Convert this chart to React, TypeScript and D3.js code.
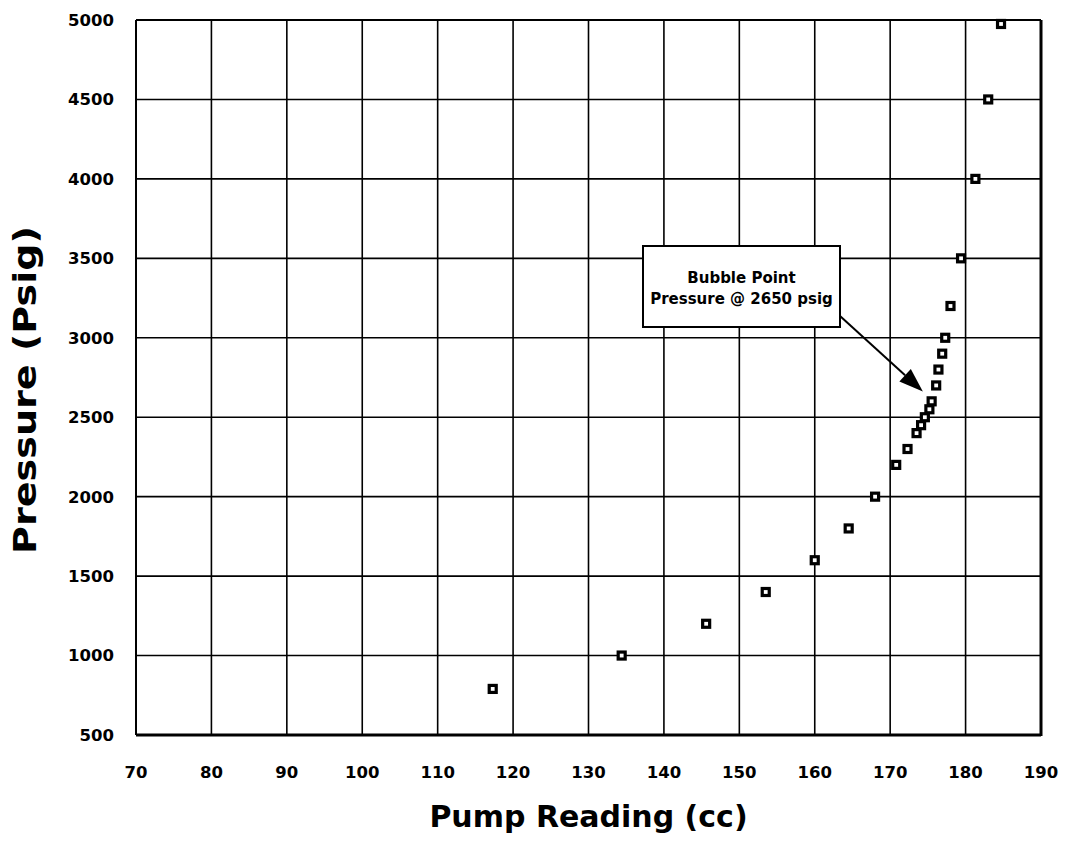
import React from "react";
import * as d3 from "d3";

const pumpReading = [117.3, 134.4, 145.6, 153.5, 160.0, 164.5, 168.0, 170.8, 172.3, 173.5, 174.1, 174.6, 175.2, 175.5, 176.1, 176.4, 176.9, 177.3, 178.0, 179.4, 181.3, 183.0, 184.7];
const pressure = [790, 1000, 1200, 1400, 1600, 1800, 2000, 2200, 2300, 2400, 2450, 2500, 2550, 2600, 2700, 2800, 2900, 3000, 3200, 3500, 4000, 4500, 4975];
const xTicks = [70, 80, 90, 100, 110, 120, 130, 140, 150, 160, 170, 180, 190];
const yTicks = [500, 1000, 1500, 2000, 2500, 3000, 3500, 4000, 4500, 5000];
const annotationLines = ["Bubble Point", "Pressure @ 2650 psig"];
const annotationTarget = { x: 174.4, p: 2650 };

const W = 1068;
const H = 844;
const left = 136, right = 1041, top = 20, bottom = 735;
const FONT = "'DejaVu Sans', Arial, sans-serif";

export default function App() {
  const x = d3.scaleLinear().domain([70, 190]).range([left, right]);
  const y = d3.scaleLinear().domain([500, 5000]).range([bottom, top]);

  const boxX = 643, boxY = 246, boxW = 197, boxH = 81;
  const arrowStart = { x: boxX + boxW, y: boxY + 70 };
  const tip = { x: x(annotationTarget.x) - 0.5, y: y(annotationTarget.p) - 2 };
  const ang = Math.atan2(tip.y - arrowStart.y, tip.x - arrowStart.x);
  const headLen = 24, headW = 8.5;
  const bx = tip.x - headLen * Math.cos(ang);
  const by = tip.y - headLen * Math.sin(ang);
  const px = -Math.sin(ang), py = Math.cos(ang);
  const head = `M${tip.x},${tip.y} L${bx + headW * px},${by + headW * py} L${bx - headW * px},${by - headW * py} Z`;

  return (
    <svg width={W} height={H} style={{ position: "absolute", left: 0, top: 0, background: "#fff" }}>
      <rect x={0} y={0} width={W} height={H} fill="#fff" />
      {/* grid */}
      {xTicks.map((t) => (
        <line key={"gx" + t} x1={x(t)} x2={x(t)} y1={top} y2={bottom} stroke="#000" strokeWidth={1.6} />
      ))}
      {yTicks.map((t) => (
        <line key={"gy" + t} x1={left} x2={right} y1={y(t)} y2={y(t)} stroke="#000" strokeWidth={1.6} />
      ))}
      {/* frame */}
      <line x1={left} x2={left} y1={top} y2={bottom} stroke="#000" strokeWidth={2} />
      <line x1={right} x2={right} y1={top} y2={bottom + 1} stroke="#000" strokeWidth={3} />
      <line x1={left} x2={right} y1={top} y2={top} stroke="#000" strokeWidth={2} />
      <line x1={left} x2={right} y1={bottom} y2={bottom} stroke="#000" strokeWidth={3} />

      {/* tick labels */}
      {xTicks.map((t) => (
        <text key={"tx" + t} x={x(t)} y={778} textAnchor="middle" fontFamily={FONT} fontWeight="bold" fontSize={16.5} fill="#000">
          {t}
        </text>
      ))}
      {yTicks.map((t) => (
        <text key={"ty" + t} x={114} y={y(t)} dy="0.36em" textAnchor="end" fontFamily={FONT} fontWeight="bold" fontSize={16.5} fill="#000">
          {t}
        </text>
      ))}

      {/* axis titles */}
      <text x={(left + right) / 2} y={827} textAnchor="middle" fontFamily={FONT} fontWeight="bold" fontSize={30} fill="#000">
        Pump Reading (cc)
      </text>
      <text transform={`translate(36,390) rotate(-90)`} textAnchor="middle" fontFamily={FONT} fontWeight="bold" fontSize={32} textLength={328} lengthAdjust="spacingAndGlyphs" fill="#000">
        Pressure (Psig)
      </text>

      {/* points */}
      {pumpReading.map((v, i) => (
        <rect key={"p" + i} x={x(v) - 3.5} y={y(pressure[i]) - 3.5} width={7} height={7} fill="#fff" stroke="#000" strokeWidth={3.2} />
      ))}

      {/* annotation */}
      <line x1={arrowStart.x} y1={arrowStart.y} x2={bx} y2={by} stroke="#000" strokeWidth={2} />
      <path d={head} fill="#000" />
      <rect x={boxX} y={boxY} width={boxW} height={boxH} fill="#fff" stroke="#000" strokeWidth={2} />
      {annotationLines.map((s, i) => (
        <text key={"a" + i} x={boxX + boxW / 2} y={283 + i * 21} textAnchor="middle" fontFamily={FONT} fontWeight="bold" fontSize={15} fill="#000">
          {s}
        </text>
      ))}
    </svg>
  );
}
